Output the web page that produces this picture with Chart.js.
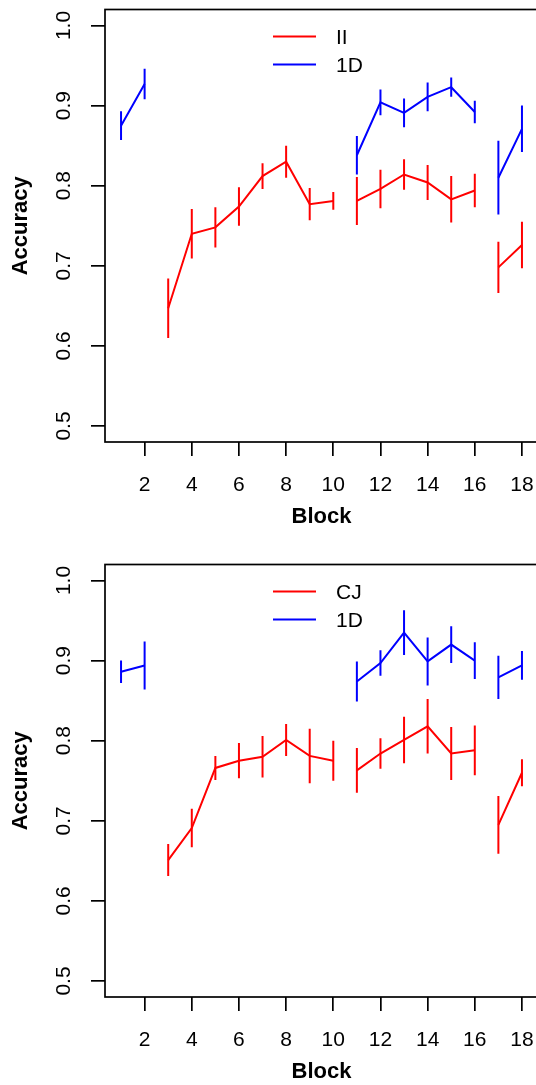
<!DOCTYPE html>
<html>
<head>
<meta charset="utf-8">
<style>
  html, body { margin: 0; padding: 0; background: #fff; overflow: hidden; width: 536px; height: 1085px; }
  canvas { position: absolute; left: 0; }
</style>
<script src="https://cdn.jsdelivr.net/npm/chart.js"></script>
</head>
<body>
<canvas id="topChart" width="540" height="555" style="top:0"></canvas>
<canvas id="bottomChart" width="540" height="555" style="top:555px"></canvas>
<script>
// blocks on the x axis, segments of the lines break after these blocks
const blocks = [1, 2, 3, 4, 5, 6, 7, 8, 9, 10, 11, 12, 13, 14, 15, 16, 17, 18];
const breakAfter = [10, 16];
const xTicks = [2, 4, 6, 8, 10, 12, 14, 16, 18];
const yTicks = [0.5, 0.6, 0.7, 0.8, 0.9, 1.0];
const yTickLabels = ['0.5', '0.6', '0.7', '0.8', '0.9', '1.0'];

// top panel: II vs 1D
const iiMean = [null, null, 0.647, 0.740, 0.748, 0.774, 0.812, 0.830, 0.777, 0.781, 0.781, 0.796, 0.814, 0.804, 0.783, 0.794, 0.698, 0.726];
const iiErr = [null, null, 0.037, 0.031, 0.025, 0.024, 0.016, 0.020, 0.020, 0.011, 0.030, 0.024, 0.019, 0.022, 0.029, 0.021, 0.032, 0.029];
const oneDMeanTop = [0.875, 0.927, null, null, null, null, null, null, null, null, 0.838, 0.904, 0.891, 0.911, 0.923, 0.892, 0.810, 0.871];
const oneDErrTop = [0.018, 0.019, null, null, null, null, null, null, null, null, 0.024, 0.016, 0.018, 0.018, 0.012, 0.014, 0.046, 0.029];

// bottom panel: CJ vs 1D
const cjMean = [null, null, 0.651, 0.691, 0.766, 0.775, 0.780, 0.801, 0.781, 0.775, 0.763, 0.784, 0.801, 0.818, 0.784, 0.788, 0.695, 0.760];
const cjErr = [null, null, 0.020, 0.024, 0.015, 0.022, 0.026, 0.020, 0.034, 0.025, 0.028, 0.019, 0.029, 0.034, 0.033, 0.031, 0.036, 0.017];
const oneDMeanBottom = [0.886, 0.894, null, null, null, null, null, null, null, null, 0.874, 0.897, 0.935, 0.899, 0.920, 0.900, 0.879, 0.894];
const oneDErrBottom = [0.014, 0.030, null, null, null, null, null, null, null, null, 0.025, 0.016, 0.028, 0.030, 0.023, 0.023, 0.027, 0.018];

const seriesColors = ['#ff0000', '#0000ff'];
const FONT = '"Liberation Sans", Arial, Helvetica, sans-serif';

function lineData(means) {
    const pts = [];
    blocks.forEach((b, i) => {
        pts.push({ x: b, y: means[i] });
        if (breakAfter.includes(b)) pts.push({ x: b + 0.5, y: null });
    });
    return pts;
}

// one little two-point dataset per error bar
function errorBars(means, errs, color) {
    const sets = [];
    blocks.forEach((b, i) => {
        if (means[i] === null) return;
        sets.push({
            data: [{ x: b, y: means[i] - errs[i] }, { x: b, y: means[i] + errs[i] }],
            borderColor: color,
            borderWidth: 2,
            pointRadius: 0
        });
    });
    return sets;
}

// frame, tick labels, axis titles and legend, R style
const rPlotText = {
    id: 'rPlotText',
    afterDraw(chart, args, opts) {
        const { ctx, chartArea: a, scales: { x, y } } = chart;
        ctx.save();
        ctx.strokeStyle = '#000';
        ctx.lineWidth = 1.7;
        ctx.strokeRect(a.left, a.top, a.right - a.left, a.bottom - a.top);

        ctx.fillStyle = '#000';
        ctx.font = '21px ' + FONT;
        ctx.textAlign = 'center';
        ctx.textBaseline = 'middle';
        xTicks.forEach(v => ctx.fillText(String(v), x.getPixelForValue(v), a.bottom + 43));
        yTicks.forEach((v, i) => {
            ctx.save();
            ctx.translate(64, y.getPixelForValue(v));
            ctx.rotate(-Math.PI / 2);
            ctx.fillText(yTickLabels[i], 0, 0);
            ctx.restore();
        });

        ctx.font = 'bold 22px ' + FONT;
        ctx.fillText('Block', (a.left + a.right) / 2, a.bottom + 75);
        ctx.save();
        ctx.translate(21, (a.top + a.bottom) / 2);
        ctx.rotate(-Math.PI / 2);
        ctx.fillText('Accuracy', 0, 0);
        ctx.restore();

        // legend
        ctx.font = '21px ' + FONT;
        ctx.textAlign = 'left';
        opts.names.forEach((name, i) => {
            const ly = a.top + 27 + i * 28;
            ctx.strokeStyle = seriesColors[i];
            ctx.lineWidth = 2;
            ctx.beginPath();
            ctx.moveTo(273, ly);
            ctx.lineTo(316, ly);
            ctx.stroke();
            ctx.fillText(name, 336, ly + 1.5);
        });
        ctx.restore();
    }
};

function makeChart(id, redMean, redErr, blueMean, blueErr, names) {
    return new Chart(document.getElementById(id), {
        type: 'line',
        data: {
            datasets: [
                { data: lineData(redMean), borderColor: seriesColors[0], borderWidth: 2, pointRadius: 0 },
                { data: lineData(blueMean), borderColor: seriesColors[1], borderWidth: 2, pointRadius: 0 },
                ...errorBars(redMean, redErr, seriesColors[0]),
                ...errorBars(blueMean, blueErr, seriesColors[1])
            ]
        },
        options: {
            responsive: false,
            animation: false,
            devicePixelRatio: 1,
            layout: { padding: { top: 9.5, right: 2, left: 0, bottom: 0 } },
            elements: { line: { tension: 0 } },
            plugins: {
                legend: { display: false },
                tooltip: { enabled: false },
                rPlotText: { names: names }
            },
            scales: {
                x: {
                    type: 'linear',
                    min: 0.32,
                    max: 18.68,
                    afterBuildTicks: s => { s.ticks = xTicks.map(v => ({ value: v })); },
                    afterFit: s => { s.height = 113; },
                    ticks: { display: false },
                    grid: { drawOnChartArea: false, tickLength: 14, color: '#000', lineWidth: 1.7 },
                    border: { display: false }
                },
                y: {
                    min: 0.48,
                    max: 1.02,
                    afterBuildTicks: s => { s.ticks = yTicks.map(v => ({ value: v })); },
                    afterFit: s => { s.width = 105; },
                    ticks: { display: false },
                    grid: { drawOnChartArea: false, tickLength: 14, color: '#000', lineWidth: 1.7 },
                    border: { display: false }
                }
            }
        },
        plugins: [rPlotText]
    });
}

makeChart('topChart', iiMean, iiErr, oneDMeanTop, oneDErrTop, ['II', '1D']);
makeChart('bottomChart', cjMean, cjErr, oneDMeanBottom, oneDErrBottom, ['CJ', '1D']);
</script>
</body>
</html>
